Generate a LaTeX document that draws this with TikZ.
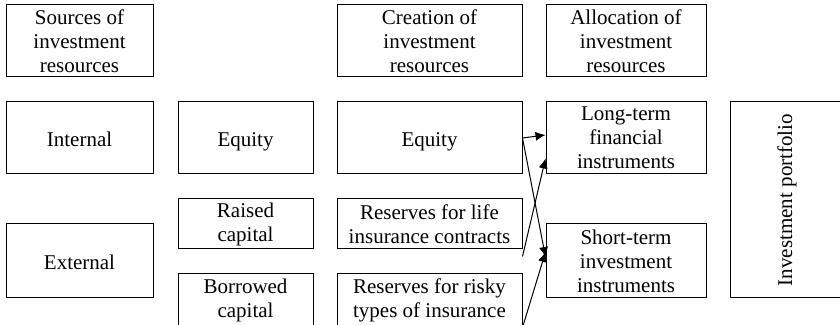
\documentclass[tikz,border=0pt]{standalone}
\usepackage{fontspec}
\setmainfont{Liberation Serif}
\usetikzlibrary{arrows.meta}
\tikzset{
  box/.style={draw, line width=0.5pt, align=center, inner sep=0pt, minimum height=36pt,
    font=\fontsize{10.5}{12}\selectfont},
  lowbox/.style={box, minimum height=25pt},
  oneline/.style={text height=8.5pt, text depth=0pt},
  arr/.style={-{Latex[length=5pt,width=4.5pt]}, line width=0.5pt}
}
\begin{document}
\begin{tikzpicture}[x=0.5pt,y=-0.5pt]
    \useasboundingbox (0,0) rectangle (840,325);
    \clip (0,0) rectangle (840,325);

    \node[box, minimum width=73.5pt] (src) at (79.5,41) {Sources of\\investment\\resources};
    \node[box, minimum width=92.5pt] (cre) at (429.5,41) {Creation of\\investment\\resources};
    \node[box, minimum width=80pt] (alloc) at (626,41) {Allocation of\\investment\\resources};

    \node[box, oneline, minimum width=73.5pt] (int) at (79.5,138) {Internal};
    \node[box, oneline, minimum width=73.5pt, minimum height=37pt] (ext) at (79.5,261) {External};

    \node[box, oneline, minimum width=67.5pt] (eq) at (245.5,138) {Equity};
    \node[lowbox, minimum width=67.5pt] (raised) at (245.5,224) {Raised\\capital};
    \node[lowbox, minimum width=67.5pt, minimum height=26pt] (borrowed) at (245.5,300) {Borrowed\\capital};

    \node[box, oneline, minimum width=92.5pt] (eqres) at (429.5,138) {Equity};
    \node[lowbox, minimum width=92.5pt] (lifeRes) at (429.5,224) {Reserves for life\\insurance contracts};
    \node[lowbox, minimum width=92.5pt, minimum height=26pt] (riskRes) at (429.5,300) {Reserves for risky\\types of insurance};

    \node[box, minimum width=80pt] (longterm) at (626,138) {Long-term\\financial\\instruments};
    \node[box, minimum width=80pt, minimum height=37pt] (shortterm) at (626,261) {Short-term\\investment\\instruments};

    \node[box, minimum width=80pt, minimum height=98pt] (portfolio) at (810,200) {};
    \node[rotate=90, font=\fontsize{10.5}{12}\selectfont] (portText) at (787,200) {Investment portfolio};

    \draw[arr] (eqres.east) -- ([yshift=1.5pt]longterm.west);
    \draw[arr] (eqres.east) -- ([yshift=2pt]shortterm.west);
    \draw[arr] ([yshift=-3.5pt]lifeRes.south east) -- ([yshift=8pt]longterm.south west);
    \draw[arr] ([yshift=-0.5pt]riskRes.south east) -- ([yshift=4.5pt]shortterm.west);
\end{tikzpicture}
\end{document}
